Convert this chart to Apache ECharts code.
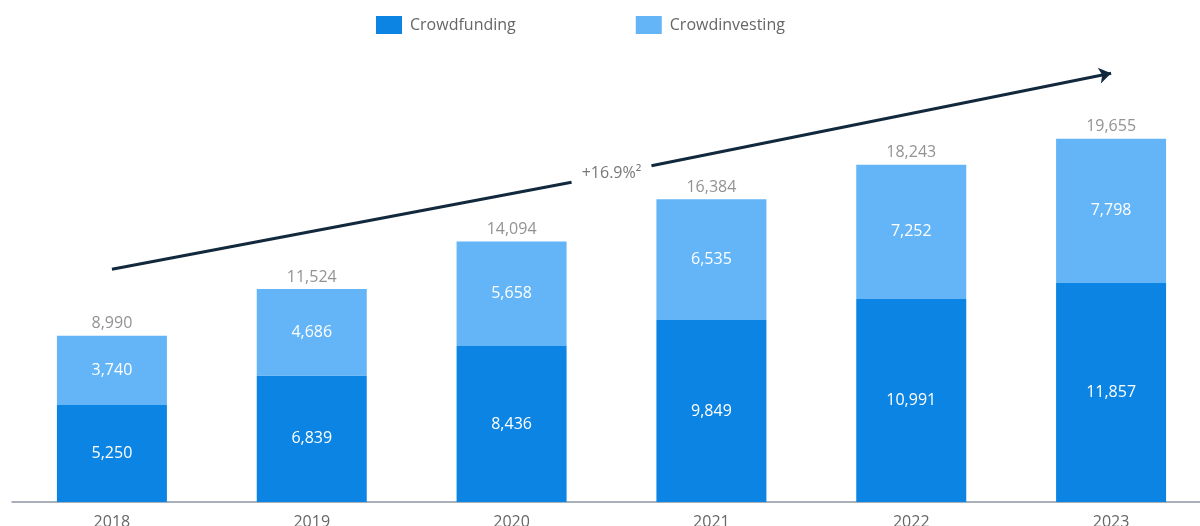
<!DOCTYPE html>
<html>
<head>
<meta charset="utf-8">
<script src="https://cdn.jsdelivr.net/npm/echarts@6/dist/echarts.min.js"></script>
<style>
  html, body { margin: 0; padding: 0; background: #fff; }
  #chart { width: 1200px; height: 526px; }
</style>
</head>
<body>
<div id="chart"></div>
<script>
// Crowdfunding and crowdinvesting volumes by year
const years = ['2018', '2019', '2020', '2021', '2022', '2023'];
const crowdfunding = [5250, 6839, 8436, 9849, 10991, 11857];
const crowdinvesting = [3740, 4686, 5658, 6535, 7252, 7798];
const totals = [8990, 11524, 14094, 16384, 18243, 19655];

// Growth arrow endpoints (year position, value) and its caption
const growthLabel = '+16.9%²';
const arrowStart = [0, 12600];
const arrowGapStart = [2.30, 17300];
const arrowGapEnd = [2.70, 18200];
const arrowEnd = [5, 23200];
const growthLabelPos = [2.50, 17800];

const fmt = v => Number(v).toLocaleString('en-US');
const FONT = '"Open Sans", "Noto Sans", sans-serif';

const chart = echarts.init(document.getElementById('chart'));
chart.setOption({
  animation: false,
  textStyle: { fontFamily: FONT },
  legend: {
    data: ['Crowdfunding', 'Crowdinvesting'],
    left: 371,
    top: 11,
    itemWidth: 26,
    itemHeight: 18,
    itemGap: 120,
    icon: 'rect',
    textStyle: { fontSize: 16, color: '#666', fontFamily: FONT, padding: [0, 0, 0, 3] }
  },
  grid: { left: 12, top: 40, width: 1199, height: 462, outerBoundsMode: 'none', containLabel: false },
  xAxis: [
    {
      type: 'category',
      data: years,
      axisLine: { lineStyle: { color: '#8c98a3', width: 1.5 } },
      axisTick: { show: false },
      axisLabel: { fontSize: 16, color: '#666', margin: 12, fontFamily: FONT }
    },
    {
      // continuous position axis for the growth arrow, aligned with the year slots
      type: 'value',
      min: -0.5,
      max: 5.5,
      show: false
    }
  ],
  yAxis: {
    type: 'value',
    min: 0,
    max: 25000,
    show: false,
    splitLine: { show: false }
  },
  series: [
    {
      name: 'Crowdfunding',
      type: 'bar',
      stack: 'volume',
      data: crowdfunding,
      barWidth: 110,
      itemStyle: { color: '#0b84e3' },
      label: {
        show: true, position: 'inside', color: '#fff', fontSize: 16, fontFamily: FONT,
        formatter: p => fmt(p.value)
      }
    },
    {
      name: 'Crowdinvesting',
      type: 'bar',
      stack: 'volume',
      data: crowdinvesting,
      barWidth: 110,
      itemStyle: { color: '#63b5f7' },
      label: {
        show: true, position: 'inside', color: '#fff', fontSize: 16, fontFamily: FONT,
        formatter: p => fmt(p.value)
      }
    },
    {
      name: 'Total',
      type: 'scatter',
      data: totals,
      symbolSize: 0,
      silent: true,
      label: {
        show: true, position: 'top', distance: 4, color: '#777', fontSize: 16, fontFamily: FONT,
        formatter: p => fmt(p.value)
      }
    },
    {
      name: 'Growth',
      type: 'line',
      xAxisIndex: 1,
      data: [],
      silent: true,
      markLine: {
        silent: true,
        symbolSize: 12,
        lineStyle: { color: '#12283c', width: 3, type: 'solid' },
        label: { show: false },
        emphasis: { disabled: true },
        data: [
          [
            { coord: arrowStart, symbol: 'none' },
            { coord: arrowGapStart, symbol: 'none' }
          ],
          [
            { coord: arrowGapEnd, symbol: 'none' },
            { coord: arrowEnd, symbol: 'arrow' }
          ]
        ]
      },
      markPoint: {
        silent: true,
        symbol: 'circle',
        symbolSize: 0,
        label: {
          show: true, position: 'inside', color: '#777', fontSize: 16, fontFamily: FONT,
          formatter: growthLabel
        },
        data: [{ coord: growthLabelPos }]
      }
    }
  ]
});
</script>
</body>
</html>
